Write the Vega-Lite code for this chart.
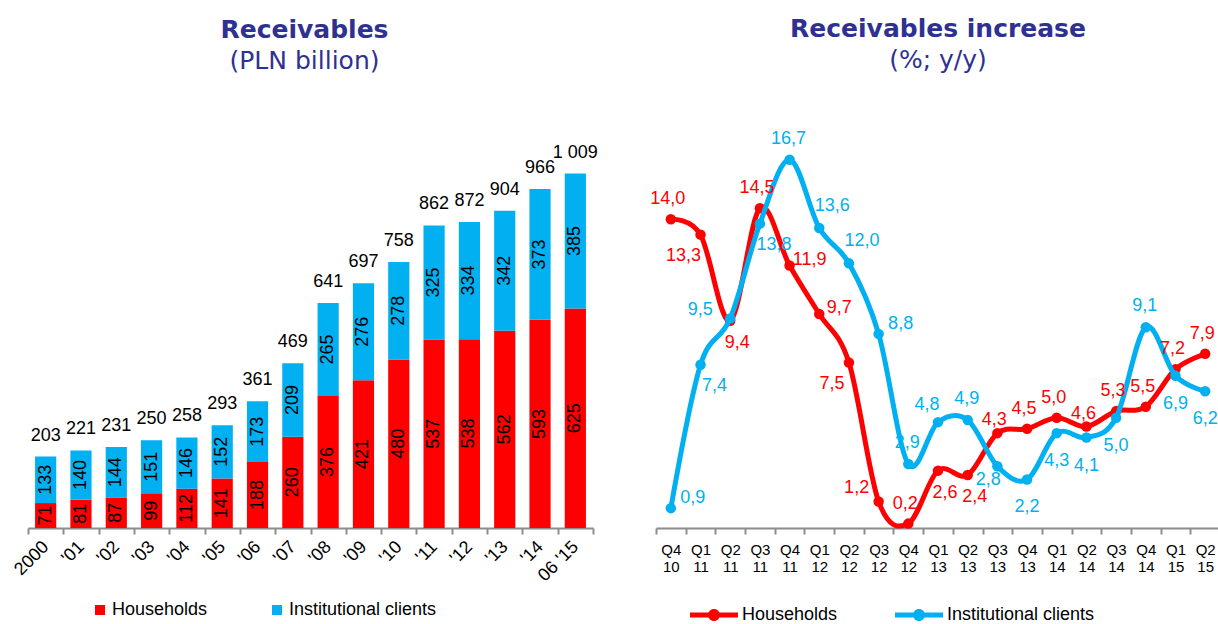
{
  "$schema": "https://vega.github.io/schema/vega-lite/v6.json",
  "padding": {"left": 10, "top": 16, "right": 0, "bottom": 0},
  "background": "white",
  "config": {
    "view": {"stroke": null},
    "font": "Liberation Sans",
    "locale": {"number": {"decimal": ",", "thousands": " ", "grouping": [3], "currency": ["", ""]}},
    "axis": {"grid": false, "domainColor": "#8c8c8c", "domainWidth": 2, "tickColor": "#8c8c8c", "tickWidth": 2, "tickSize": 6, "labelColor": "#000000", "labelFont": "Liberation Sans"},
    "legend": {"labelFont": "Liberation Sans", "labelColor": "#000000", "labelFontSize": 18, "labelLimit": 400}
  },
  "datasets": {
    "bars": [
      {"yr": "2000", "seg": "Households", "v": 71}, {"yr": "2000", "seg": "Institutional clients", "v": 133},
      {"yr": "'01", "seg": "Households", "v": 81}, {"yr": "'01", "seg": "Institutional clients", "v": 140},
      {"yr": "'02", "seg": "Households", "v": 87}, {"yr": "'02", "seg": "Institutional clients", "v": 144},
      {"yr": "'03", "seg": "Households", "v": 99}, {"yr": "'03", "seg": "Institutional clients", "v": 151},
      {"yr": "'04", "seg": "Households", "v": 112}, {"yr": "'04", "seg": "Institutional clients", "v": 146},
      {"yr": "'05", "seg": "Households", "v": 141}, {"yr": "'05", "seg": "Institutional clients", "v": 152},
      {"yr": "'06", "seg": "Households", "v": 188}, {"yr": "'06", "seg": "Institutional clients", "v": 173},
      {"yr": "'07", "seg": "Households", "v": 260}, {"yr": "'07", "seg": "Institutional clients", "v": 209},
      {"yr": "'08", "seg": "Households", "v": 376}, {"yr": "'08", "seg": "Institutional clients", "v": 265},
      {"yr": "'09", "seg": "Households", "v": 421}, {"yr": "'09", "seg": "Institutional clients", "v": 276},
      {"yr": "'10", "seg": "Households", "v": 480}, {"yr": "'10", "seg": "Institutional clients", "v": 278},
      {"yr": "'11", "seg": "Households", "v": 537}, {"yr": "'11", "seg": "Institutional clients", "v": 325},
      {"yr": "'12", "seg": "Households", "v": 538}, {"yr": "'12", "seg": "Institutional clients", "v": 334},
      {"yr": "'13", "seg": "Households", "v": 562}, {"yr": "'13", "seg": "Institutional clients", "v": 342},
      {"yr": "'14", "seg": "Households", "v": 593}, {"yr": "'14", "seg": "Institutional clients", "v": 373},
      {"yr": "06 '15", "seg": "Households", "v": 625}, {"yr": "06 '15", "seg": "Institutional clients", "v": 385}
    ],
    "totals": [
      {"yr": "2000", "total": 203}, {"yr": "'01", "total": 221}, {"yr": "'02", "total": 231}, {"yr": "'03", "total": 250},
      {"yr": "'04", "total": 258}, {"yr": "'05", "total": 293}, {"yr": "'06", "total": 361}, {"yr": "'07", "total": 469},
      {"yr": "'08", "total": 641}, {"yr": "'09", "total": 697}, {"yr": "'10", "total": 758}, {"yr": "'11", "total": 862},
      {"yr": "'12", "total": 872}, {"yr": "'13", "total": 904}, {"yr": "'14", "total": 966}, {"yr": "06 '15", "total": 1009}
    ],
    "growth": [
      {"q": "Q4 10", "seg": "Households", "v": 14.0}, {"q": "Q1 11", "seg": "Households", "v": 13.3},
      {"q": "Q2 11", "seg": "Households", "v": 9.4}, {"q": "Q3 11", "seg": "Households", "v": 14.5},
      {"q": "Q4 11", "seg": "Households", "v": 11.9}, {"q": "Q1 12", "seg": "Households", "v": 9.7},
      {"q": "Q2 12", "seg": "Households", "v": 7.5}, {"q": "Q3 12", "seg": "Households", "v": 1.2},
      {"q": "Q4 12", "seg": "Households", "v": 0.2}, {"q": "Q1 13", "seg": "Households", "v": 2.6},
      {"q": "Q2 13", "seg": "Households", "v": 2.4}, {"q": "Q3 13", "seg": "Households", "v": 4.3},
      {"q": "Q4 13", "seg": "Households", "v": 4.5}, {"q": "Q1 14", "seg": "Households", "v": 5.0},
      {"q": "Q2 14", "seg": "Households", "v": 4.6}, {"q": "Q3 14", "seg": "Households", "v": 5.3},
      {"q": "Q4 14", "seg": "Households", "v": 5.5}, {"q": "Q1 15", "seg": "Households", "v": 7.2},
      {"q": "Q2 15", "seg": "Households", "v": 7.9},
      {"q": "Q4 10", "seg": "Institutional clients", "v": 0.9}, {"q": "Q1 11", "seg": "Institutional clients", "v": 7.4},
      {"q": "Q2 11", "seg": "Institutional clients", "v": 9.5}, {"q": "Q3 11", "seg": "Institutional clients", "v": 13.8},
      {"q": "Q4 11", "seg": "Institutional clients", "v": 16.7}, {"q": "Q1 12", "seg": "Institutional clients", "v": 13.6},
      {"q": "Q2 12", "seg": "Institutional clients", "v": 12.0}, {"q": "Q3 12", "seg": "Institutional clients", "v": 8.8},
      {"q": "Q4 12", "seg": "Institutional clients", "v": 2.9}, {"q": "Q1 13", "seg": "Institutional clients", "v": 4.8},
      {"q": "Q2 13", "seg": "Institutional clients", "v": 4.9}, {"q": "Q3 13", "seg": "Institutional clients", "v": 2.8},
      {"q": "Q4 13", "seg": "Institutional clients", "v": 2.2}, {"q": "Q1 14", "seg": "Institutional clients", "v": 4.3},
      {"q": "Q2 14", "seg": "Institutional clients", "v": 4.1}, {"q": "Q3 14", "seg": "Institutional clients", "v": 5.0},
      {"q": "Q4 14", "seg": "Institutional clients", "v": 9.1}, {"q": "Q1 15", "seg": "Institutional clients", "v": 6.9},
      {"q": "Q2 15", "seg": "Institutional clients", "v": 6.2}
    ]
  },
  "spacing": 63,
  "bounds": "flush",
  "resolve": {"scale": {"color": "independent", "x": "independent", "y": "independent"}, "legend": {"color": "independent"}},
  "hconcat": [
    {
      "width": 565,
      "height": 397,
      "title": {"text": "Receivables", "subtitle": "(PLN billion)", "font": "DejaVu Sans", "fontSize": 25, "fontWeight": "bold", "color": "#2E3192", "subtitleFont": "DejaVu Sans", "subtitleFontSize": 25, "subtitleColor": "#2E3192", "subtitlePadding": 6, "offset": 57, "anchor": "middle", "frame": "group", "dx": -6},
      "layer": [
        {
          "data": {"name": "bars"},
          "mark": {"type": "bar", "width": {"band": 0.6}},
          "encoding": {
            "x": {"field": "yr", "type": "nominal", "scale": {"domain": ["2000", "'01", "'02", "'03", "'04", "'05", "'06", "'07", "'08", "'09", "'10", "'11", "'12", "'13", "'14", "06 '15"], "paddingInner": 0, "paddingOuter": 0},
                  "axis": {"title": null, "labelAngle": -45, "labelAlign": "right", "labelBaseline": "middle", "labelFontSize": 18, "labelPadding": 10, "tickBand": "extent"}},
            "y": {"field": "v", "type": "quantitative", "stack": "zero", "scale": {"domain": [0, 1131], "nice": false, "zero": true}, "axis": null},
            "color": {"field": "seg", "type": "nominal", "scale": {"domain": ["Households", "Institutional clients"], "range": ["#FF0000", "#00B0F0"]},
                      "legend": {"title": null, "orient": "none", "legendX": 63, "legendY": 470, "direction": "horizontal", "symbolType": "square", "symbolSize": 100, "symbolStrokeWidth": 0, "columnPadding": 60, "labelOffset": 3}},
            "order": {"field": "seg", "sort": "ascending"}
          }
        },
        {
          "data": {"name": "bars"},
          "mark": {"type": "text", "angle": 270, "fontSize": 18, "color": "#000000", "align": "center", "baseline": "middle"},
          "encoding": {
            "x": {"field": "yr", "type": "nominal"},
            "y": {"field": "v", "type": "quantitative", "stack": "zero", "bandPosition": 0.5},
            "detail": {"field": "seg"},
            "order": {"field": "seg", "sort": "ascending"},
            "text": {"field": "v", "type": "quantitative"}
          }
        },
        {
          "data": {"name": "totals"},
          "mark": {"type": "text", "fontSize": 18, "color": "#000000", "align": "center", "baseline": "alphabetic", "dy": -16},
          "encoding": {
            "x": {"field": "yr", "type": "nominal"},
            "y": {"field": "total", "type": "quantitative"},
            "text": {"field": "total", "type": "quantitative", "format": ","}
          }
        }
      ]
    },
    {
      "width": 564,
      "height": 397,
      "title": {"text": "Receivables increase", "subtitle": "(%; y/y)", "font": "DejaVu Sans", "fontSize": 25, "fontWeight": "bold", "color": "#2E3192", "subtitleFont": "DejaVu Sans", "subtitleFontSize": 25, "subtitleColor": "#2E3192", "subtitlePadding": 6, "offset": 57, "anchor": "middle", "frame": "group"},
      "data": {"name": "growth"},
      "encoding": {
        "x": {"field": "q", "type": "nominal", "scale": {"domain": ["Q4 10", "Q1 11", "Q2 11", "Q3 11", "Q4 11", "Q1 12", "Q2 12", "Q3 12", "Q4 12", "Q1 13", "Q2 13", "Q3 13", "Q4 13", "Q1 14", "Q2 14", "Q3 14", "Q4 14", "Q1 15", "Q2 15"], "type": "band", "paddingInner": 0, "paddingOuter": 0},
              "axis": {"title": null, "labelAngle": 0, "labelFontSize": 15, "labelLineHeight": 17, "labelPadding": 8, "labelExpr": "split(datum.label, ' ')", "tickBand": "extent"}},
        "y": {"field": "v", "type": "quantitative", "scale": {"domain": [0, 18], "nice": false}, "axis": null}
      },
      "layer": [
        {"transform": [{"filter": {"field": "seg", "equal": "Households"}}], "mark": {"type": "line", "interpolate": "cardinal", "strokeWidth": 5, "color": "#FF0000"}},
        {"transform": [{"filter": {"field": "seg", "equal": "Households"}}], "mark": {"type": "point", "filled": true, "size": 110, "opacity": 1},
         "encoding": {"color": {"field": "seg", "type": "nominal", "scale": {"domain": ["Households", "Institutional clients"], "range": ["#FF0000", "#00B0F0"]},
           "legend": {"title": null, "orient": "none", "legendX": 34, "legendY": 460, "direction": "horizontal", "symbolType": "M-1,-0.1L1,-0.1L1,0.1L-1,0.1Z M0.25,0A0.25,0.25 0 1,1 -0.25,0A0.25,0.25 0 1,1 0.25,0Z", "symbolSize": 2304, "symbolStrokeWidth": 0, "columnPadding": 57, "labelOffset": 4}}}},
        {"transform": [{"filter": {"field": "seg", "equal": "Institutional clients"}}], "mark": {"type": "line", "interpolate": "cardinal", "strokeWidth": 5, "color": "#00B0F0"}},
        {"transform": [{"filter": {"field": "seg", "equal": "Institutional clients"}}], "mark": {"type": "point", "filled": true, "size": 110, "opacity": 1},
         "encoding": {"color": {"field": "seg", "type": "nominal"}}},
        {"transform": [{"filter": {"and": [{"field": "seg", "equal": "Households"}, {"field": "q", "oneOf": ["Q4 10", "Q3 11", "Q4 12", "Q4 13", "Q1 14", "Q3 14", "Q4 14", "Q1 15", "Q2 15"]}]}}],
         "mark": {"type": "text", "fontSize": 18, "color": "#FF0000", "dx": -3, "dy": -20}, "encoding": {"text": {"field": "v", "type": "quantitative", "format": ".1f"}}},
        {"transform": [{"filter": {"and": [{"field": "seg", "equal": "Households"}, {"field": "q", "oneOf": ["Q3 13", "Q2 14"]}]}}],
         "mark": {"type": "text", "fontSize": 18, "color": "#FF0000", "dx": -3, "dy": -13}, "encoding": {"text": {"field": "v", "type": "quantitative", "format": ".1f"}}},
        {"transform": [{"filter": {"and": [{"field": "seg", "equal": "Households"}, {"field": "q", "oneOf": ["Q2 11", "Q1 13", "Q2 13"]}]}}],
         "mark": {"type": "text", "fontSize": 18, "color": "#FF0000", "dx": 7, "dy": 22}, "encoding": {"text": {"field": "v", "type": "quantitative", "format": ".1f"}}},
        {"transform": [{"filter": {"and": [{"field": "seg", "equal": "Households"}, {"field": "q", "oneOf": ["Q4 11", "Q1 12"]}]}}],
         "mark": {"type": "text", "fontSize": 18, "color": "#FF0000", "dx": 20, "dy": -6}, "encoding": {"text": {"field": "v", "type": "quantitative", "format": ".1f"}}},
        {"transform": [{"filter": {"and": [{"field": "seg", "equal": "Households"}, {"field": "q", "oneOf": ["Q1 11", "Q2 12"]}]}}],
         "mark": {"type": "text", "fontSize": 18, "color": "#FF0000", "dx": -17, "dy": 21}, "encoding": {"text": {"field": "v", "type": "quantitative", "format": ".1f"}}},
        {"transform": [{"filter": {"and": [{"field": "seg", "equal": "Households"}, {"field": "q", "oneOf": ["Q3 12"]}]}}],
         "mark": {"type": "text", "fontSize": 18, "color": "#FF0000", "dx": -22, "dy": -14}, "encoding": {"text": {"field": "v", "type": "quantitative", "format": ".1f"}}},
        {"transform": [{"filter": {"and": [{"field": "seg", "equal": "Institutional clients"}, {"field": "q", "oneOf": ["Q4 10", "Q3 12"]}]}}],
         "mark": {"type": "text", "fontSize": 18, "color": "#00B0F0", "dx": 22, "dy": -10}, "encoding": {"text": {"field": "v", "type": "quantitative", "format": ".1f"}}},
        {"transform": [{"filter": {"and": [{"field": "seg", "equal": "Institutional clients"}, {"field": "q", "oneOf": ["Q1 11", "Q3 11"]}]}}],
         "mark": {"type": "text", "fontSize": 18, "color": "#00B0F0", "dx": 14, "dy": 21}, "encoding": {"text": {"field": "v", "type": "quantitative", "format": ".1f"}}},
        {"transform": [{"filter": {"and": [{"field": "seg", "equal": "Institutional clients"}, {"field": "q", "oneOf": ["Q2 11"]}]}}],
         "mark": {"type": "text", "fontSize": 18, "color": "#00B0F0", "dx": -30, "dy": -8}, "encoding": {"text": {"field": "v", "type": "quantitative", "format": ".1f"}}},
        {"transform": [{"filter": {"and": [{"field": "seg", "equal": "Institutional clients"}, {"field": "q", "oneOf": ["Q4 11", "Q4 12", "Q2 13", "Q4 14"]}]}}],
         "mark": {"type": "text", "fontSize": 18, "color": "#00B0F0", "dx": -1, "dy": -21}, "encoding": {"text": {"field": "v", "type": "quantitative", "format": ".1f"}}},
        {"transform": [{"filter": {"and": [{"field": "seg", "equal": "Institutional clients"}, {"field": "q", "oneOf": ["Q1 13"]}]}}],
         "mark": {"type": "text", "fontSize": 18, "color": "#00B0F0", "dx": -11, "dy": -17}, "encoding": {"text": {"field": "v", "type": "quantitative", "format": ".1f"}}},
        {"transform": [{"filter": {"and": [{"field": "seg", "equal": "Institutional clients"}, {"field": "q", "oneOf": ["Q1 12", "Q2 12"]}]}}],
         "mark": {"type": "text", "fontSize": 18, "color": "#00B0F0", "dx": 13, "dy": -22}, "encoding": {"text": {"field": "v", "type": "quantitative", "format": ".1f"}}},
        {"transform": [{"filter": {"and": [{"field": "seg", "equal": "Institutional clients"}, {"field": "q", "oneOf": ["Q4 13", "Q1 14", "Q2 14", "Q3 14", "Q1 15", "Q2 15"]}]}}],
         "mark": {"type": "text", "fontSize": 18, "color": "#00B0F0", "dx": 0, "dy": 28}, "encoding": {"text": {"field": "v", "type": "quantitative", "format": ".1f"}}},
        {"transform": [{"filter": {"and": [{"field": "seg", "equal": "Institutional clients"}, {"field": "q", "oneOf": ["Q3 13"]}]}}],
         "mark": {"type": "text", "fontSize": 18, "color": "#00B0F0", "dx": -9, "dy": 14}, "encoding": {"text": {"field": "v", "type": "quantitative", "format": ".1f"}}}
      ]
    }
  ]
}
